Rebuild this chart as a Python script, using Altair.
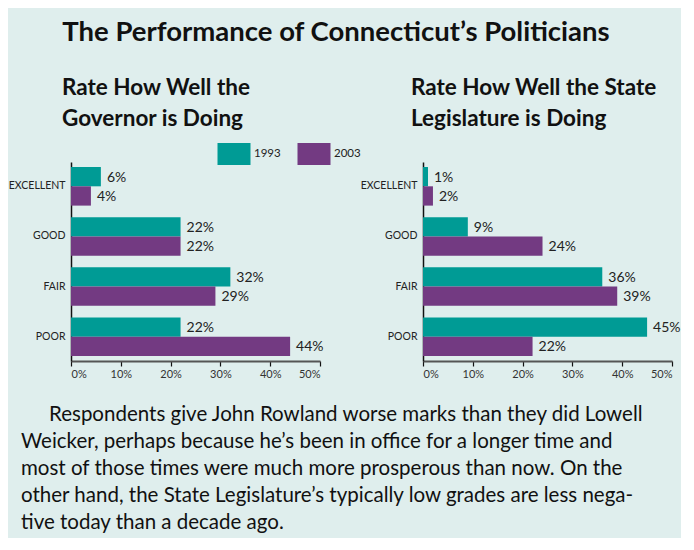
import altair as alt
import pandas as pd

categories = ["EXCELLENT", "GOOD", "FAIR", "POOR"]
years = ["1993", "2003"]
governor_1993 = [6, 22, 32, 22]
governor_2003 = [4, 22, 29, 44]
legislature_1993 = [1, 9, 36, 45]
legislature_2003 = [2, 24, 39, 22]
x_ticks = [0, 10, 20, 30, 40, 50]

main_title = "The Performance of Connecticut\u2019s Politicians"
left_title = ["Rate How Well the", "Governor is Doing"]
right_title = ["Rate How Well the State", "Legislature is Doing"]
paragraph_first = "Respondents give John Rowland worse marks than they did Lowell"
paragraph_rest = [
    "Weicker, perhaps because he\u2019s been in office for a longer time and",
    "most of those times were much more prosperous than now.  On the",
    "other hand, the State Legislature\u2019s typically low grades are less nega-",
    "tive today than a decade ago.",
]

TEAL = "#009b95"
PURPLE = "#733a82"
BG = "#dfeeed"
FONT = "Lato"
PARA_SIZE = 20.5
PARA_LINE = 27


def make_df(v93, v03):
    rows = []
    for c, a, b in zip(categories, v93, v03):
        rows.append({"category": c, "year": "1993", "value": a, "label": f"{a}%"})
        rows.append({"category": c, "year": "2003", "value": b, "label": f"{b}%"})
    return pd.DataFrame(rows)


def panel(df, title_lines, dx):
    base = alt.Chart(df).encode(
        y=alt.Y(
            "category:N",
            sort=categories,
            scale=alt.Scale(paddingInner=0.23, paddingOuter=0.1),
            axis=alt.Axis(
                title=None, ticks=False, domainColor="#111", domainWidth=1.5,
                labelFontSize=10.5, labelColor="#222", labelPadding=6, labelFont=FONT,
            ),
        ),
        yOffset=alt.YOffset("year:N", sort=years),
        x=alt.X(
            "value:Q",
            scale=alt.Scale(domain=[0, 50]),
            axis=alt.Axis(
                values=x_ticks, labelExpr="datum.value + '%'", grid=False, title=None,
                tickColor="#111", tickSize=5, tickWidth=1.2, domainColor="#555", domainWidth=2,
                labelFontSize=11, labelColor="#333", labelFont=FONT, labelPadding=2,
            ),
        ),
    )
    bars = base.mark_bar(opacity=1).encode(
        color=alt.Color(
            "year:N",
            scale=alt.Scale(domain=years, range=[TEAL, PURPLE]),
            legend=alt.Legend(
                orient="none", legendX=152, legendY=-19, direction="horizontal",
                title=None, symbolType="M-1.5,-1H1.5V1H-1.5Z", symbolSize=484,
                symbolStrokeWidth=0, symbolOpacity=1, labelFontSize=11.5, labelFont=FONT,
                labelColor="#222", labelOffset=9, columnPadding=16,
            ),
        )
    )
    labels = base.mark_text(align="left", baseline="middle", dx=6, dy=1, fontSize=14,
                            font=FONT, color="#222").encode(text="label:N")
    return alt.layer(bars, labels).properties(
        width=249, height=199,
        title=alt.TitleParams(title_lines, anchor="start", frame="group", dx=dx,
                              fontSize=22.5, font=FONT, fontWeight="bold", color="#111",
                              lineHeight=31, offset=32),
    )


left = panel(make_df(governor_1993, governor_2003), left_title, -9)
right = panel(make_df(legislature_1993, legislature_2003), right_title, -12)

para_src = alt.Chart(pd.DataFrame({"k": [0]}))
para_first = para_src.mark_text(
    text=paragraph_first, align="left", baseline="top", fontSize=PARA_SIZE, font=FONT,
    color="#111",
).encode(x=alt.value(-22), y=alt.value(0))
para_rest = para_src.mark_text(
    text=paragraph_rest, align="left", baseline="top", fontSize=PARA_SIZE, font=FONT,
    lineHeight=PARA_LINE, color="#111",
).encode(x=alt.value(-50), y=alt.value(PARA_LINE))
para = alt.layer(para_first, para_rest).properties(width=500, height=100)

chart = alt.vconcat(
    alt.hconcat(left, right, spacing=36),
    para,
    spacing=26,
).properties(
    title=alt.TitleParams(main_title, anchor="start", dx=54, fontSize=27.5, font=FONT,
                          fontWeight="bold", color="#111", offset=30),
    background=BG,
    padding={"left": 0, "top": 11, "right": 0, "bottom": 4},
).configure_view(stroke=None)

chart.save("out.html", embed_options={"renderer": "svg", "actions": False})
